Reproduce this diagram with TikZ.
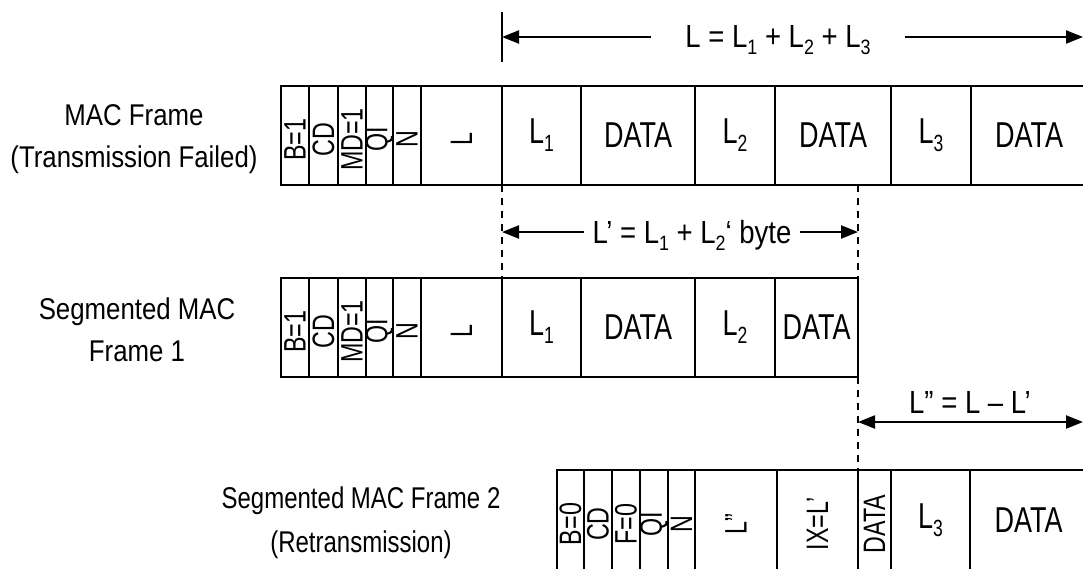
\documentclass[tikz,border=0pt]{standalone}
\usepackage{fontspec}
\usepackage{graphicx}
\setmainfont{Liberation Sans}[FakeStretch=0.75]
\newfontfamily\lblfont{Liberation Sans}[FakeStretch=0.86]
\newfontfamily\lblfontb{Liberation Sans}[FakeStretch=0.8]
\usetikzlibrary{arrows.meta}
\newcommand\lsb[1]{\raisebox{-0.22em}{\scalebox{0.65}{#1}}}
% name, x1, x2, ytop, ybot, text
\newcommand\mkcell[6]{%
  \node[cellbox, minimum width={(#3)-(#2)}, minimum height={(#5)-(#4)}] (#1) at ({((#2)+(#3))/2},{((#4)+(#5))/2}) {#6};}
\newcommand\mkvcell[6]{%
  \node[cellbox, minimum width={(#3)-(#2)}, minimum height={(#5)-(#4)}] (#1) at ({((#2)+(#3))/2},{((#4)+(#5))/2}) {};
  \node[vtext] (#1t) at ([yshift=-4pt]#1.center) {#6};}
\begin{document}
\begin{tikzpicture}[x=1pt,y=-1pt,
  cellbox/.style={draw, line width=2pt, inner sep=0pt, outer sep=0pt, font=\fontsize{36}{40}\selectfont},
  vtext/.style={font=\fontsize{31}{34}\selectfont, rotate=90, inner sep=0pt},
  lbl/.style={font=\lblfont\fontsize{30}{42}\selectfont, align=center, inner sep=0pt},
  lblb/.style={font=\lblfontb\fontsize{30}{44}\selectfont, align=center, inner sep=0pt},
  dimlbl/.style={font=\lblfont\fontsize{32}{36}\selectfont, inner ysep=0pt},
  tipd/.tip={Triangle[length=17pt,width=13pt]},
  dimarrow/.style={line width=2.2pt},
  guide/.style={line width=1.8pt, dash pattern=on 7pt off 6pt}
]
\clip (0,0) rectangle (1083,568);
\fill[white] (0,0) rectangle (1083,568);

% ---------- Frame 1 ----------
\mkvcell{f1a}{281}{309}{86}{185}{B=1}
\mkvcell{f1b}{309}{338}{86}{185}{CD}
\mkvcell{f1c}{338}{366}{86}{185}{MD=1}
\mkvcell{f1d}{366}{393}{86}{185}{QI}
\mkvcell{f1e}{393}{421}{86}{185}{N}
\mkvcell{f1f}{421}{502}{86}{185}{L}
\mkcell{f1g}{502}{581}{86}{185}{L\lsb{1}}
\mkcell{f1h}{581}{695}{86}{185}{DATA}
\mkcell{f1i}{695}{775}{86}{185}{L\lsb{2}}
\mkcell{f1j}{775}{891}{86}{185}{DATA}
\mkcell{f1k}{891}{971}{86}{185}{L\lsb{3}}
\mkcell{f1l}{971}{1087}{86}{185}{DATA}

% ---------- Frame 2 ----------
\mkvcell{f2a}{281}{309}{278}{377}{B=1}
\mkvcell{f2b}{309}{338}{278}{377}{CD}
\mkvcell{f2c}{338}{366}{278}{377}{MD=1}
\mkvcell{f2d}{366}{393}{278}{377}{QI}
\mkvcell{f2e}{393}{421}{278}{377}{N}
\mkvcell{f2f}{421}{502}{278}{377}{L}
\mkcell{f2g}{502}{581}{278}{377}{L\lsb{1}}
\mkcell{f2h}{581}{695}{278}{377}{DATA}
\mkcell{f2i}{695}{775}{278}{377}{L\lsb{2}}
\mkcell{f2j}{775}{858}{278}{377}{DATA}

% ---------- Frame 3 ----------
\mkvcell{f3a}{557}{584}{470}{570}{B=0}
\mkvcell{f3b}{584}{612}{470}{570}{CD}
\mkvcell{f3c}{612}{640}{470}{570}{F=0}
\mkvcell{f3d}{640}{668}{470}{570}{QI}
\mkvcell{f3e}{668}{695}{470}{570}{N}
\mkvcell{f3f}{695}{777}{470}{570}{L”}
\mkvcell{f3g}{777}{858}{470}{570}{IX=L’}
\mkvcell{f3h}{858}{891}{470}{570}{DATA}
\mkcell{f3i}{891}{970}{470}{570}{L\lsb{3}}
\mkcell{f3j}{970}{1087}{470}{570}{DATA}

% ---------- Left labels ----------
\node[lbl] (lab1) at (134,139) {MAC Frame\\(Transmission Failed)};
\node[lbl] (lab2) at (137,330) {Segmented MAC\\Frame 1};
\node[lblb] (lab3) at (361,523) {Segmented MAC Frame 2\\(Retransmission)};

% ---------- Dashed guides ----------
\draw[guide] (f1g.south west) -- (f2g.north west);
\draw[guide] (f2j.north east |- f1j.south) -- (f2j.north east);
\draw[guide] (f2j.south east) -- (f3h.north west);

% ---------- Dimension L ----------
\coordinate (tT) at (502,12);
\coordinate (tB) at (502,62);
\coordinate (aL) at (502,37);
\coordinate (aR) at (1083,37);
\draw[line width=2pt] (tT) -- (tB);
\node[dimlbl, inner xsep=34pt] (Llbl) at (778,40) {L = L\lsb{1} + L\lsb{2} + L\lsb{3}};
\draw[dimarrow, -tipd] (Llbl.west |- aL) -- (aL);
\draw[dimarrow, -tipd] (Llbl.east |- aR) -- (aR);

% ---------- Dimension L' ----------
\coordinate (bL) at (502,232);
\coordinate (bR) at (858,232);
\node[dimlbl, inner xsep=8pt] (Lplbl) at (692,235) {L’ = L\lsb{1} + L\lsb{2}‘ byte};
\draw[dimarrow, -tipd] (Lplbl.west |- bL) -- (bL);
\draw[dimarrow, -tipd] (Lplbl.east |- bR) -- (bR);

% ---------- Dimension L'' ----------
\coordinate (cL) at (858,422);
\coordinate (cR) at (1083,422);
\draw[dimarrow, tipd-tipd] (cL) -- (cR);
\node[dimlbl] (Lpplbl) at (970,402) {L” = L – L’};
\end{tikzpicture}
\end{document}
